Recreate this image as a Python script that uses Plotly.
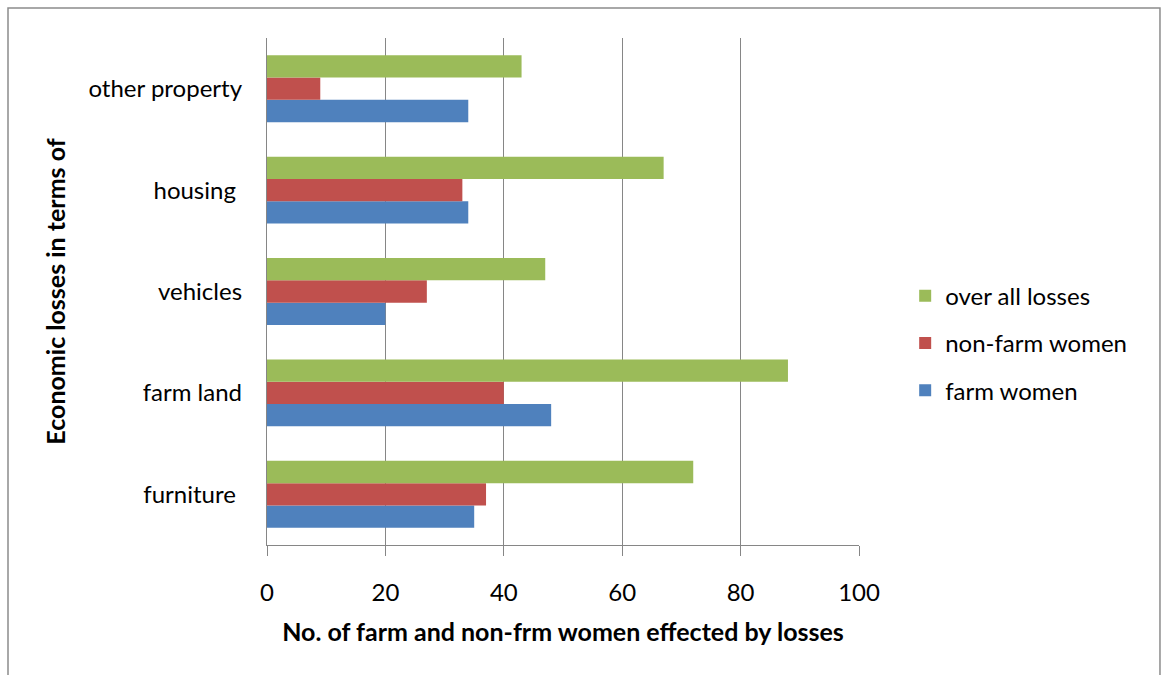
import plotly.graph_objects as go

# Loss categories (bottom to top) and counts per group
categories = ["furniture\u00a0", "farm land", "vehicles", "housing\u00a0", "other property"]
farm_women = [35, 48, 20, 34, 34]
non_farm_women = [37, 40, 27, 33, 9]
over_all_losses = [72, 88, 47, 67, 43]

x_ticks = [0, 20, 40, 60, 80, 100]

FONT = "Lato"
GRID = "#868686"

fig = go.Figure()
# (name, values, colour, legend rank: top entry first)
series = [
    ("farm women", farm_women, "#4F81BD", 3),
    ("non-farm women", non_farm_women, "#C0504D", 2),
    ("over all losses", over_all_losses, "#9BBB59", 1),
]
for name, vals, color, rank in series:
    fig.add_trace(go.Bar(
        y=categories, x=vals, name=name, orientation="h",
        marker=dict(color=color, line=dict(width=0)),
        legendgroup=name, legendrank=rank,
    ))

fig.update_layout(
    width=1162, height=675,
    margin=dict(l=267, r=303, t=38, b=130),
    paper_bgcolor="white", plot_bgcolor="white",
    barmode="group", bargap=0.34, bargroupgap=0,
    font=dict(family=FONT, size=24, color="#000000"),
    legend=dict(
        x=1.078, y=0.398, xanchor="left", yanchor="middle",
        traceorder="grouped", tracegroupgap=13,
        font=dict(family=FONT, size=24, color="#000000"),
        bgcolor="rgba(0,0,0,0)",
    ),
    xaxis=dict(
        range=[0, 100], tickvals=x_ticks, ticktext=[str(v) for v in x_ticks],
        showgrid=True, gridcolor=GRID, gridwidth=1.3,
        showline=True, linecolor=GRID, linewidth=1.3,
        ticks="outside", ticklen=10, tickcolor=GRID, tickwidth=1.3,
        zeroline=False, ticklabelstandoff=16,
        tickfont=dict(family=FONT, size=24),
        title=dict(text="<b>No. of farm and non-frm women effected by losses</b>",
                   font=dict(family=FONT, size=25), standoff=18),
    ),
    yaxis=dict(
        categoryorder="array", categoryarray=categories,
        showline=True, linecolor=GRID, linewidth=1.3,
        showgrid=False, zeroline=False, ticks="",
        ticklabelstandoff=19,
        tickfont=dict(family=FONT, size=24),
        title=dict(text="<b>Economic losses in terms of</b>",
                   font=dict(family=FONT, size=25), standoff=15),
    ),
    shapes=[dict(
        type="path", xref="paper", yref="paper",
        path="M -0.4375,-0.3 L -0.4375,1.0592 L 1.5084,1.0592 L 1.5084,-0.3",
        line=dict(color="#8C8C8C", width=1.5),
    )],
)

fig.write_html("out.html")
